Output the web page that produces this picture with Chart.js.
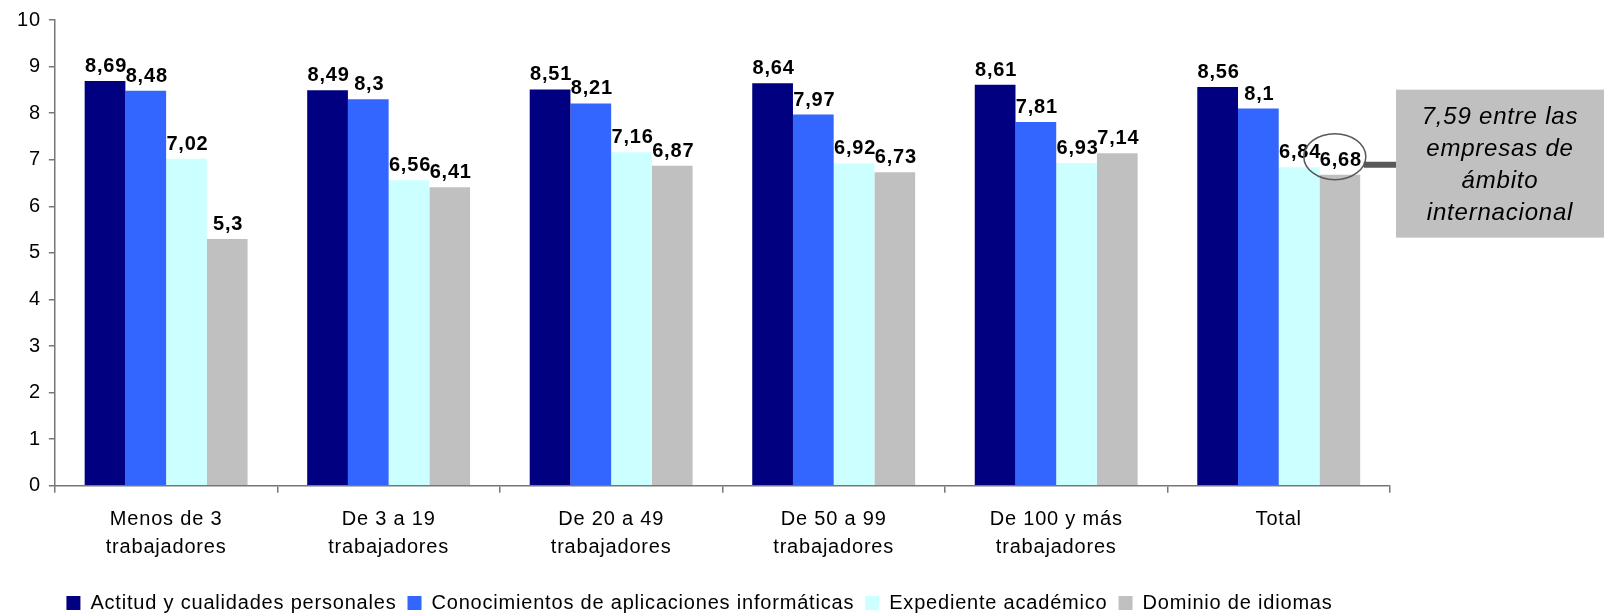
<!DOCTYPE html>
<html>
<head>
<meta charset="utf-8">
<title>Valoración de competencias</title>
<script src="https://cdn.jsdelivr.net/npm/chart.js@4.4.1/dist/chart.umd.min.js"></script>
<style>
html,body{margin:0;padding:0;background:#fff;}
#wrap{width:1604px;height:614px;}
</style>
</head>
<body>
<div id="wrap"><canvas id="myChart" width="1604" height="614"></canvas></div>
<script>
// datos
var categoryLabels = [["Menos de 3","trabajadores"],["De 3 a 19","trabajadores"],["De 20 a 49","trabajadores"],["De 50 a 99","trabajadores"],["De 100 y más","trabajadores"],["Total"]];
var seriesNames = ["Actitud y cualidades personales","Conocimientos de aplicaciones informáticas","Expediente académico","Dominio de idiomas"];
var actitudData = [8.69, 8.49, 8.51, 8.64, 8.61, 8.56];
var conocimientosData = [8.48, 8.3, 8.21, 7.97, 7.81, 8.1];
var expedienteData = [7.02, 6.56, 7.16, 6.92, 6.93, 6.84];
var idiomasData = [5.3, 6.41, 6.87, 6.73, 7.14, 6.68];
var yMin = 0, yMax = 10, yStep = 1;
var calloutLines = ["7,59 entre las","empresas de","ámbito","internacional"];

var seriesColors = ['#000080','#3366FF','#CCFFFF','#C0C0C0'];
var fontName = "'Liberation Sans', Arial, sans-serif";

var fmtNum = function(v){
    return String(v).replace('.', ',');
};

var createDatasets = function(){
    var arr = [];
    var dataArr = [actitudData, conocimientosData, expedienteData, idiomasData];
    for (var i = 0; i < dataArr.length; i++) {
        arr.push({
            label: seriesNames[i],
            data: dataArr[i],
            backgroundColor: seriesColors[i],
            borderWidth: 0,
            barPercentage: 1,
            categoryPercentage: 0.732
        });
    }
    return arr;
};

// el texto de Excel va algo espaciado
var spacingPlugin = {
    id: 'spacing',
    beforeUpdate: function(chart){ chart.ctx.letterSpacing = '0.8px'; },
    beforeDraw: function(chart){ chart.ctx.letterSpacing = '0.8px'; }
};

// etiquetas de valor encima de cada barra
var valueLabelPlugin = {
    id: 'valueLabels',
    afterDatasetsDraw: function(chart){
        var ctx = chart.ctx;
        ctx.save();
        ctx.font = 'bold 20px ' + fontName;
        ctx.fillStyle = '#000';
        ctx.textAlign = 'center';
        ctx.textBaseline = 'alphabetic';
        chart.data.datasets.forEach(function(ds, di){
            var meta = chart.getDatasetMeta(di);
            meta.data.forEach(function(bar, i){
                ctx.fillText(fmtNum(ds.data[i]), bar.x + 1, bar.y - 9);
            });
        });
        ctx.restore();
    }
};

// recuadro gris con la nota de empresas internacionales
var calloutPlugin = {
    id: 'callout',
    afterDraw: function(chart){
        var ctx = chart.ctx;
        var last = chart.data.datasets.length - 1;
        var meta = chart.getDatasetMeta(last);
        var bar = meta.data[meta.data.length - 1];
        var cx = bar.x - 5, cy = bar.y - 18;
        var lineY = cy + 8;
        var boxX = chart.chartArea.right + 6;
        var boxTop = lineY - 75;
        ctx.save();
        ctx.strokeStyle = '#595959';
        ctx.lineWidth = 1.5;
        ctx.beginPath();
        ctx.ellipse(cx, cy, 31, 23, 0, 0, Math.PI * 2);
        ctx.stroke();
        ctx.lineWidth = 6;
        ctx.beginPath();
        ctx.moveTo(cx + 29, lineY);
        ctx.lineTo(boxX, lineY);
        ctx.stroke();
        ctx.fillStyle = '#C0C0C0';
        ctx.fillRect(boxX, boxTop, chart.width - boxX, 148);
        ctx.fillStyle = '#000';
        ctx.font = 'italic 24px ' + fontName;
        ctx.textAlign = 'center';
        ctx.textBaseline = 'alphabetic';
        var midX = boxX + (chart.width - boxX) / 2;
        calloutLines.forEach(function(t, i){
            ctx.fillText(t, midX, boxTop + 34 + i * 32);
        });
        ctx.restore();
    }
};

var ctx1 = document.getElementById('myChart');
var mChart = new Chart(ctx1, {
    type: 'bar',
    data: {
        labels: categoryLabels,
        datasets: createDatasets()
    },
    options: {
        responsive: false,
        animation: false,
        devicePixelRatio: 1,
        layout: {
            padding: {top: 12, right: 214, left: 9, bottom: -9}
        },
        plugins: {
            legend: {
                position: 'bottom',
                labels: {
                    boxWidth: 14,
                    boxHeight: 14,
                    padding: 11,
                    color: '#000',
                    font: {family: fontName, size: 20}
                }
            },
            tooltip: {enabled: false},
            title: {display: false}
        },
        scales: {
            x: {
                afterFit: function(scale){ scale.height += 8; },
                grid: {display: true, drawOnChartArea: false, tickLength: 7, color: '#777', lineWidth: 1.5},
                border: {color: '#777', width: 1.5},
                ticks: {color: '#000', padding: 13, font: {family: fontName, size: 20, lineHeight: 1.38}}
            },
            y: {
                min: yMin,
                max: yMax,
                grid: {display: true, drawOnChartArea: false, tickLength: 6, color: '#777', lineWidth: 1.5},
                border: {color: '#777', width: 1.5},
                ticks: {stepSize: yStep, color: '#000', padding: 8, font: {family: fontName, size: 20}}
            }
        }
    },
    plugins: [spacingPlugin, valueLabelPlugin, calloutPlugin]
});
</script>
</body>
</html>
